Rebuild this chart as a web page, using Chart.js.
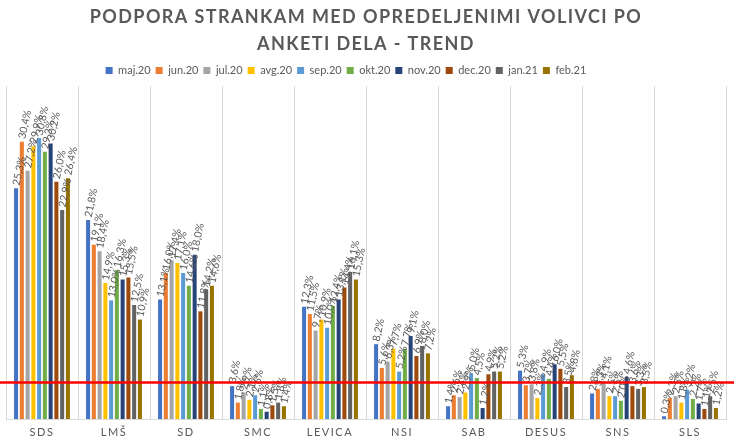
<!DOCTYPE html>
<html>
<head>
<meta charset="utf-8">
<script src="https://cdn.jsdelivr.net/npm/chart.js@4.4.1/dist/chart.umd.min.js"></script>
<style>
html, body { margin: 0; padding: 0; background: #fff; }
#wrap { width: 734px; height: 439px; position: relative; }
</style>
</head>
<body>
<div id="wrap"><canvas id="partyChart"></canvas></div>
<script>
// stranke in meseci
const categories = ['SDS', 'LMŠ', 'SD', 'SMC', 'LEVICA', 'NSI', 'SAB', 'DESUS', 'SNS', 'SLS'];
const months = ['maj.20', 'jun.20', 'jul.20', 'avg.20', 'sep.20', 'okt.20', 'nov.20', 'dec.20', 'jan.21', 'feb.21'];

// podpora v % po mesecih
const maj20 = [25.3, 21.8, 13.1, 3.6, 12.3, 8.2, 1.4, 5.3, 2.8, 0.3];
const jun20 = [30.4, 19.1, 16.0, 1.8, 11.5, 5.6, 2.6, 3.7, 3.3, 2.3];
const jul20 = [27.2, 18.4, 17.4, 2.9, 9.7, 6.3, 2.4, 3.8, 4.1, 2.5];
const avg20 = [29.9, 14.9, 17.1, 2.1, 10.9, 7.7, 2.9, 2.3, 2.5, 1.8];
const sep20 = [30.8, 13.0, 16.0, 2.6, 10.0, 5.2, 5.0, 4.9, 2.5, 3.2];
const okt20 = [29.3, 16.3, 14.6, 1.1, 12.4, 7.7, 4.5, 4.4, 2.0, 2.2];
const nov20 = [30.2, 15.3, 18.0, 0.8, 13.1, 9.1, 1.2, 6.0, 4.6, 1.7];
const dec20 = [26.0, 15.5, 11.8, 1.5, 14.4, 6.9, 4.9, 5.5, 3.6, 1.1];
const jan21 = [22.9, 12.5, 14.2, 1.8, 16.1, 8.0, 5.2, 3.5, 3.3, 2.5];
const feb21 = [26.4, 10.9, 14.6, 1.4, 15.3, 7.2, 5.2, 4.8, 3.5, 1.2];

// parlamentarni prag
const threshold = 4;

const seriesValues = [maj20, jun20, jul20, avg20, sep20, okt20, nov20, dec20, jan21, feb21];
const colors = ['#4472C4', '#ED7D31', '#A5A5A5', '#FFC000', '#5B9BD5', '#70AD47', '#264478', '#9E480E', '#636363', '#997300'];

const textColor = '#595959';
const fontFamily = 'Lato, "Open Sans", sans-serif';

// razmik med črkami za naslov in oznake osi, zamik legende
const letterSpacingPlugin = {
    id: 'letterSpacing',
    afterLayout(chart) {
        const tb = chart.titleBlock;
        if (tb && !tb._spaced) {
            const draw = tb.draw;
            tb.draw = function (area) {
                const c = this.ctx;
                c.save();
                c.letterSpacing = '1.4px';
                draw.call(this, area);
                c.restore();
            };
            tb._spaced = true;
        }
        const lg = chart.legend;
        if (lg && !lg._shifted) {
            const draw = lg.draw;
            lg.draw = function (area) {
                const c = this.ctx;
                c.save();
                c.translate(-20, 0);
                draw.call(this, area);
                c.restore();
            };
            lg._shifted = true;
        }
        const xs = chart.scales.x;
        if (xs && !xs._spaced) {
            const drawLabels = xs.drawLabels;
            xs.drawLabels = function (area) {
                const c = this.ctx;
                c.save();
                c.letterSpacing = '1.5px';
                drawLabels.call(this, area);
                c.restore();
            };
            xs._spaced = true;
        }
    }
};

// oznake vrednosti nad stolpci + črta praga
const barLabelsPlugin = {
    id: 'barLabels',
    afterDatasetsDraw(chart) {
        const ctx = chart.ctx;
        ctx.save();
        ctx.font = '10.5px ' + fontFamily;
        ctx.fillStyle = textColor;
        ctx.textAlign = 'left';
        ctx.textBaseline = 'middle';
        chart.data.datasets.forEach((ds, i) => {
            chart.getDatasetMeta(i).data.forEach((bar, j) => {
                ctx.save();
                ctx.translate(bar.x, bar.y - 3);
                ctx.rotate(-78 * Math.PI / 180);
                ctx.fillText(ds.data[j].toFixed(1).replace('.', ',') + '%', 0, 0);
                ctx.restore();
            });
        });
        ctx.restore();

        const y = chart.scales.y.getPixelForValue(threshold);
        ctx.save();
        ctx.strokeStyle = '#FF0000';
        ctx.lineWidth = 2.5;
        ctx.beginPath();
        ctx.moveTo(0, y);
        ctx.lineTo(chart.width, y);
        ctx.stroke();
        ctx.restore();
    }
};

function initPartyChart() {
    const ctx = document.getElementById('partyChart').getContext('2d');

    const data = {
        labels: categories,
        datasets: months.map((m, i) => ({
            label: m,
            data: seriesValues[i],
            backgroundColor: colors[i],
            borderWidth: 0,
            categoryPercentage: 0.8,
            barPercentage: 0.7
        }))
    };

    new Chart(ctx, {
        type: 'bar',
        data: data,
        plugins: [letterSpacingPlugin, barLabelsPlugin],
        options: {
            responsive: true,
            maintainAspectRatio: false,
            animation: false,
            layout: {
                padding: { left: 6, right: 8, top: 0, bottom: 0 }
            },
            plugins: {
                title: {
                    display: true,
                    text: ['PODPORA STRANKAM MED OPREDELJENIMI VOLIVCI PO', 'ANKETI DELA - TREND'],
                    color: textColor,
                    font: { family: fontFamily, size: 18, weight: 'bold', lineHeight: 1.5 },
                    padding: { top: 4, bottom: 2 }
                },
                legend: {
                    display: true,
                    position: 'top',
                    labels: {
                        color: textColor,
                        font: { family: fontFamily, size: 11 },
                        boxWidth: 7,
                        boxHeight: 7,
                        padding: 5
                    }
                },
                tooltip: { enabled: false }
            },
            scales: {
                x: {
                    afterFit(scale) {
                        scale.height = 20;
                    },
                    grid: {
                        display: true,
                        color: '#D9D9D9',
                        offset: true,
                        drawTicks: false,
                        tickLength: 0
                    },
                    border: { display: true, color: '#D9D9D9' },
                    ticks: {
                        color: textColor,
                        font: { family: fontFamily, size: 11 },
                        padding: 7,
                        maxRotation: 0,
                        autoSkip: false
                    }
                },
                y: {
                    display: false,
                    min: 0,
                    max: 36.5
                }
            }
        }
    });
}

document.addEventListener('DOMContentLoaded', initPartyChart);
</script>
</body>
</html>
